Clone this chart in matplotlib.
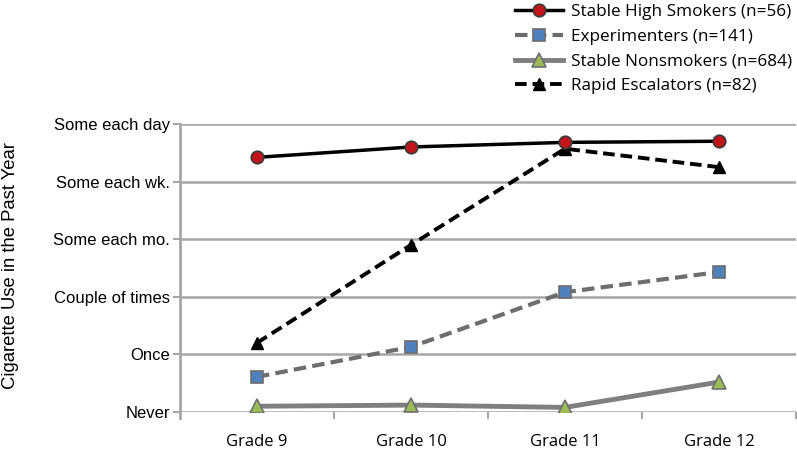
import matplotlib
matplotlib.use("Agg")
import matplotlib.pyplot as plt

# --- Data ---
grades = ["Grade 9", "Grade 10", "Grade 11", "Grade 12"]
level_labels = ["Never", "Once", "Couple of times", "Some each mo.", "Some each wk.", "Some each day"]

stable_high = [4.42, 4.60, 4.68, 4.70]
experimenters = [0.61, 1.13, 2.08, 2.43]
stable_non = [0.10, 0.12, 0.08, 0.52]
rapid = [1.20, 2.90, 4.57, 4.25]

plt.rcParams["font.family"] = ["Liberation Sans", "DejaVu Sans"]
label_font = ["Open Sans", "DejaVu Sans"]

fig = plt.figure(figsize=(7.97, 4.54), dpi=100)
ax = fig.add_axes([0.2258, 0.0925, 0.773, 0.6345])

x = list(range(len(grades)))
grid_col = "#a6a6a6"

# --- Lines ---
ax.plot(x, stable_non, color="#7f7f7f", lw=3.5, marker="^", ms=10,
        mfc="#9bbb59", mec="#6f6f6f", mew=1.2, label="Stable Nonsmokers (n=684)", zorder=3)
ax.plot(x, experimenters, color="#6d6d6d", lw=3, ls=(0, (3, 1.5)), marker="s", ms=9,
        mfc="#4f81bd", mec="#6d6d6d", mew=1.2, label="Experimenters (n=141)", zorder=3)
ax.plot(x, rapid, color="black", lw=2.8, ls=(0, (3, 1.5)), marker="^", ms=9,
        mfc="black", mec="black", label="Rapid Escalators (n=82)", zorder=4)
ax.plot(x, stable_high, color="black", lw=2.5, marker="o", ms=9,
        mfc="#c0151b", mec="#3a3a3a", mew=1.2, label="Stable High Smokers (n=56)", zorder=5)

# --- Axes styling ---
ax.set_xlim(-0.5, 3.5)
ax.set_ylim(0, 5)
ax.set_yticks(range(6))
ax.set_yticklabels(level_labels, fontsize=12)
ax.set_xticks(x)
ax.set_xticklabels(grades, fontsize=12, family=label_font)
ax.tick_params(axis="x", length=0, pad=16)
ax.tick_params(axis="y", length=5, color=grid_col, width=1.5, pad=2)
ax.set_xticks([0.5, 1.5, 2.5, 3.5], minor=True)
ax.tick_params(axis="x", which="minor", length=5, color=grid_col, width=1.5)

for y in range(6):
    ax.axhline(y, color=grid_col, lw=1.8, zorder=1)

for s in ["top", "right", "bottom"]:
    ax.spines[s].set_visible(False)
ax.spines["left"].set_color(grid_col)
ax.spines["left"].set_linewidth(2)
ax.spines["left"].set_bounds(-0.1, 5)

fig.text(11 / 797, 1 - 266 / 454, "Cigarette Use in the Past Year", rotation=90,
         ha="center", va="center", fontsize=13.3)

# --- Legend ---
handles, labels = ax.get_legend_handles_labels()
order = [3, 1, 0, 2]
fig.legend([handles[i] for i in order], [labels[i] for i in order],
           loc="upper left", bbox_to_anchor=(0.627, 1.024), frameon=False,
           prop={"family": label_font, "size": 12.3},
           handlelength=2.8, labelspacing=0.5, handletextpad=0.5)

fig.savefig("out.png", dpi=100)
